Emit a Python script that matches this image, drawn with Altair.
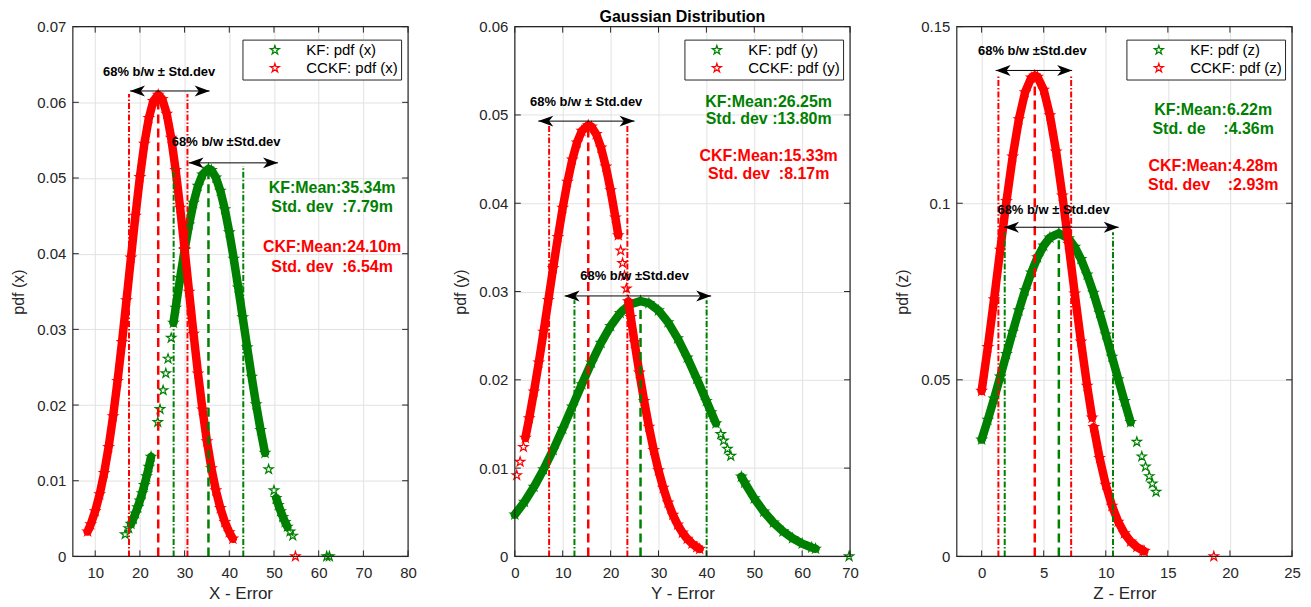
import altair as alt
import pandas as pd

GREEN = "#008000"
RED = "#ff0000"
INK = "#262626"
FONT = "Liberation Sans"
W, H = 336, 531
STAR = ("M0,-1L0.2245,-0.309L0.951,-0.309L0.363,0.118L0.588,0.809L0,0.382"
        "L-0.588,0.809L-0.363,0.118L-0.951,-0.309L-0.2245,-0.309Z")
HEAD_R = "M0,0L-2,-0.73L-1.45,0L-2,0.73Z"
HEAD_L = "M0,0L2,-0.73L1.45,0L2,0.73Z"
NB = "\u00a0"

# ======================= Panel 1 : X - Error =======================
x_kf_err = [16.7, 17.5,
            18, 18.5, 19, 19.5, 20, 20.5, 21, 21.5, 22, 22.5,
            24, 24.5, 25.2, 25.8, 26.3, 27,
            27.5, 28, 29, 30, 31, 32, 33, 34, 35.34, 36, 37, 38, 39, 40, 41, 42, 43, 44, 45, 46, 47, 48,
            48.8, 50,
            50.5, 51, 51.5, 52, 52.5, 53,
            53.6, 54.2, 61.8, 62.4]
x_kf_pdf = [0.00292, 0.00372,
            0.00430, 0.00495, 0.00567, 0.00648, 0.00737, 0.00834, 0.00941, 0.01057, 0.01182, 0.01317,
            0.01774, 0.01945, 0.02195, 0.02419, 0.02612, 0.02887,
            0.03087, 0.03285, 0.03677, 0.04049, 0.04385, 0.04671, 0.04895, 0.05046, 0.05121, 0.05103,
            0.05006, 0.04831, 0.04586, 0.04282, 0.03933, 0.03553, 0.03158, 0.02761, 0.02374, 0.02008,
            0.01670, 0.01367,
            0.01151, 0.00872,
            0.00771, 0.00679, 0.00596, 0.00520, 0.00453, 0.00392,
            0.00328, 0.00273, 0.0, 0.0]
x_kf_seg = [0, 0,
            1, 1, 1, 1, 1, 1, 1, 1, 1, 1,
            0, 0, 0, 0, 0, 0,
            2, 2, 2, 2, 2, 2, 2, 2, 2, 2, 2, 2, 2, 2, 2, 2, 2, 2, 2, 2, 2, 2,
            0, 0,
            3, 3, 3, 3, 3, 3,
            0, 0, 0, 0]
x_ckf_err = [8.3, 9, 10, 11, 12, 13, 14, 15, 16, 17, 18, 19, 20, 21, 22, 23, 24.1,
             25, 26, 27, 28, 29, 30, 31, 32, 33, 34, 35, 36, 37, 38, 39, 40, 40.8, 54.8]
x_ckf_pdf = [0.00329, 0.00424, 0.00597, 0.00821, 0.01102, 0.01445, 0.01852, 0.02317, 0.02832,
             0.03384, 0.03948, 0.04501, 0.05012, 0.05452, 0.05793, 0.06015, 0.06100,
             0.06043, 0.05848, 0.05529, 0.05106, 0.04607, 0.04061, 0.03497, 0.02941, 0.02417,
             0.01940, 0.01521, 0.01165, 0.00872, 0.00638, 0.00455, 0.00318, 0.00234, 0.0]
x_ckf_seg = [1] * 34 + [0]
x_kf_vlines = [27.55, 35.34, 43.13]
x_kf_vtops = [0.0516, 0.0512, 0.0516]
x_ckf_vlines = [17.56, 24.10, 30.64]
x_ckf_vtops = [0.0611, 0.0610, 0.0611]
x_arrow_from = [17.8, 30.9]
x_arrow_to = [35.6, 50.9]
x_arrow_y = [0.0615, 0.0520]
x_arrow_text = ["68% b/w ± Std.dev", "68% b/w ±Std.dev"]
x_arrow_tx = [24.3, 39.3]
x_arrow_ty = [0.0640, 0.0547]
x_kf_notes = ["KF:Mean:35.34m", "Std. dev" + NB * 2 + ":7.79m"]
x_kf_notes_y = [0.0487, 0.0462]
x_ckf_notes = ["CKF:Mean:24.10m", "Std. dev" + NB * 2 + ":6.54m"]
x_ckf_notes_y = [0.0409, 0.0383]
x_notes_x = 63.0

# ======================= Panel 2 : Y - Error =======================
y_kf_err = [0, 2, 4, 6, 8, 10, 12, 14, 16, 18, 20, 22, 24, 26.25, 28, 30, 32, 34, 36, 38, 40, 41, 42,
            43, 43.6, 44.4, 45.1,
            47.3, 48, 50, 52, 54, 56, 58, 60, 62, 62.8,
            69.8]
y_kf_pdf = [0.00474, 0.00617, 0.00788, 0.00985, 0.01206, 0.01445, 0.01697, 0.01950, 0.02194,
            0.02418, 0.02609, 0.02757, 0.02853, 0.02891, 0.02868, 0.02786, 0.02651, 0.02469,
            0.02252, 0.02012, 0.01760, 0.01633, 0.01507,
            0.01384, 0.01312, 0.01217, 0.01138,
            0.00903, 0.00835, 0.00657, 0.00507, 0.00383, 0.00283, 0.00205, 0.00145, 0.00101, 0.00087,
            0.0]
y_kf_seg = [1] * 23 + [0] * 4 + [2] * 10 + [0]
y_ckf_err = [0.4, 1.1, 1.8,
             2.2, 3, 4, 5, 6, 7, 8, 9, 10, 11, 12, 13, 14, 15.33, 16, 17, 18, 19, 20, 21, 21.6,
             22.1, 22.5, 22.9, 23.3,
             23.7, 24.2, 25, 26, 27, 28, 29, 30, 31, 32, 33, 34, 35, 36, 37, 38, 38.6]
y_ckf_pdf = [0.00919, 0.01071, 0.01239,
             0.01342, 0.01564, 0.01867, 0.02196, 0.02544, 0.02904, 0.03265, 0.03617, 0.03947,
             0.04243, 0.04494, 0.04688, 0.04819, 0.04883, 0.04867, 0.04782, 0.04629, 0.04414,
             0.04147, 0.03838, 0.03637,
             0.03464, 0.03322, 0.03179, 0.03034,
             0.02889, 0.02709, 0.02424, 0.02081, 0.01760, 0.01467, 0.01204, 0.00974, 0.00776,
             0.00609, 0.00471, 0.00359, 0.00269, 0.00199, 0.00145, 0.00104, 0.00085]
y_ckf_seg = [0] * 3 + [1] * 21 + [0] * 4 + [2] * 17
y_kf_vlines = [12.45, 26.25, 40.05]
y_kf_vtops = [0.0290, 0.0289, 0.0290]
y_ckf_vlines = [7.16, 15.33, 23.50]
y_ckf_vtops = [0.0488, 0.0488, 0.0488]
y_arrow_from = [4.9, 10.4]
y_arrow_to = [25.0, 41.0]
y_arrow_y = [0.0493, 0.0295]
y_arrow_text = ["68% b/w ± Std.dev", "68% b/w ±Std.dev"]
y_arrow_tx = [14.9, 25.0]
y_arrow_ty = [0.0515, 0.0318]
y_kf_notes = ["KF:Mean:26.25m", "Std. dev :13.80m"]
y_kf_notes_y = [0.0515, 0.0495]
y_ckf_notes = ["CKF:Mean:15.33m", "Std. dev" + NB * 2 + ":8.17m"]
y_ckf_notes_y = [0.0454, 0.0433]
y_notes_x = 53.0

# ======================= Panel 3 : Z - Error =======================
z_kf_err = [0, 0.5, 1, 1.5, 2, 2.5, 3, 3.5, 4, 4.5, 5, 5.5, 6.22, 7, 7.5, 8, 8.5, 9, 9.5, 10,
            10.5, 11, 11.5, 12,
            12.5, 12.9, 13.2, 13.5, 13.75, 14.05]
z_kf_pdf = [0.03307, 0.03870, 0.04469, 0.05092, 0.05728, 0.06358, 0.06966, 0.07532, 0.08037,
            0.08465, 0.08799, 0.09026, 0.09150, 0.09005, 0.08764, 0.08418, 0.07981, 0.07466,
            0.06895, 0.06283, 0.05652, 0.05017, 0.04395, 0.03800,
            0.03243, 0.02829, 0.02540, 0.02270, 0.02060, 0.01825]
z_kf_seg = [1] * 24 + [0] * 6
z_ckf_err = [0, 0.5, 1, 1.5, 2, 2.5, 3, 3.5, 4, 4.28, 4.5, 5, 5.5, 6, 6.5, 7, 7.5, 8, 8.5, 8.9,
             9.03, 9.5, 10, 10.5, 11, 11.5, 12, 12.5, 13, 13.1,
             18.7]
z_ckf_pdf = [0.04685, 0.05925, 0.07277, 0.08682, 0.10060, 0.11322, 0.12377, 0.13142, 0.13554,
             0.13616, 0.13578, 0.13212, 0.12486, 0.11461, 0.10219, 0.08849, 0.07444, 0.06081,
             0.04826, 0.03928,
             0.03660, 0.02785, 0.02026, 0.01430, 0.00982, 0.00654, 0.00423, 0.00266, 0.00162,
             0.00147,
             0.0]
z_ckf_seg = [1] * 20 + [2] * 10 + [0]
z_kf_vlines = [1.86, 6.22, 10.58]
z_kf_vtops = [0.0918, 0.0915, 0.0918]
z_ckf_vlines = [1.35, 4.28, 7.21]
z_ckf_vtops = [0.1363, 0.1362, 0.1363]
z_arrow_from = [1.13, 1.8]
z_arrow_to = [7.29, 11.04]
z_arrow_y = [0.1376, 0.0932]
z_arrow_text = ["68% b/w ±Std.dev", "68% b/w ± Std.dev"]
z_arrow_tx = [4.08, 5.79]
z_arrow_ty = [0.1430, 0.0982]
z_kf_notes = ["KF:Mean:6.22m", "Std. de" + NB * 4 + ":4.36m"]
z_kf_notes_y = [0.1263, 0.1211]
z_ckf_notes = ["CKF:Mean:4.28m", "Std. dev" + NB * 4 + ":2.93m"]
z_ckf_notes_y = [0.1104, 0.1052]
z_notes_x = 18.65

# axes
x1_domain, x1_ticks = [5, 80], [10, 20, 30, 40, 50, 60, 70, 80]
y1_domain, y1_ticks = [0, 0.07], [0, 0.01, 0.02, 0.03, 0.04, 0.05, 0.06, 0.07]
x2_domain, x2_ticks = [0, 70], [0, 10, 20, 30, 40, 50, 60, 70]
y2_domain, y2_ticks = [0, 0.06], [0, 0.01, 0.02, 0.03, 0.04, 0.05, 0.06]
x3_domain, x3_ticks = [-2, 25], [0, 5, 10, 15, 20, 25]
y3_domain, y3_ticks = [0, 0.15], [0, 0.05, 0.1, 0.15]


def panel(xdom, xticks, ydom, yticks, xtitle, ytitle, tag,
          kf, ckf, kfv, ckfv, arrows, kf_notes, ckf_notes, notes_x, title=None):
    XS = alt.Scale(domain=xdom, nice=False, zero=False)
    YS = alt.Scale(domain=ydom, nice=False, zero=False)
    AX = alt.Axis(values=xticks, title=xtitle, grid=True, gridColor="#e2e2e2", gridWidth=1,
                  domain=False, ticks=False, labelFlush=False, labelFont=FONT, labelFontSize=15,
                  labelColor=INK, labelPadding=9, titleFont=FONT, titleFontSize=17,
                  titleFontWeight="normal", titleColor=INK, titlePadding=5)
    AY = alt.Axis(values=yticks, title=ytitle, format=".2~f", grid=True, gridColor="#e2e2e2",
                  gridWidth=1, domain=False, ticks=False, labelFlush=False, labelFont=FONT,
                  labelFontSize=15, labelColor=INK, labelPadding=7, titleFont=FONT,
                  titleFontSize=16, titleFontWeight="normal", titleColor=INK, titlePadding=10)

    def X(f):
        return alt.X(f + ":Q", scale=XS, axis=AX)

    def Y(f):
        return alt.Y(f + ":Q", scale=YS, axis=AY)

    kf_label = "KF: pdf (" + tag + ")"
    ckf_label = "CCKF: pdf (" + tag + ")"
    cscale = alt.Scale(domain=[kf_label, ckf_label], range=[GREEN, RED])
    leg = alt.Legend(title=None, orient="none", legendX=170, legendY=13, direction="vertical",
                     fillColor="white", strokeColor=INK, padding=3, rowPadding=2,
                     symbolType=STAR, symbolSize=90, symbolStrokeWidth=1.2, symbolOffset=22,
                     labelOffset=24, labelFont=FONT, labelFontSize=15, labelColor="black")

    layers = []
    for (err, pdf, seg), col, lab in ((kf, GREEN, kf_label), (ckf, RED, ckf_label)):
        df = pd.DataFrame({"x": err, "y": pdf, "seg": seg, "series": lab})
        layers.append(
            alt.Chart(df[df["seg"] > 0]).mark_line(
                color=col, strokeWidth=8.5, strokeCap="round", strokeJoin="round"
            ).encode(x=X("x"), y=Y("y"), detail="seg:N")
        )
        layers.append(
            alt.Chart(df).mark_point(
                shape=STAR, filled=False, size=95, strokeWidth=1.2, opacity=1
            ).encode(x=X("x"), y=Y("y"),
                     color=alt.Color("series:N", scale=cscale, legend=leg))
        )

    for (vx, vt), col in ((kfv, GREEN), (ckfv, RED)):
        vdf = pd.DataFrame({"x": vx, "y": [0.0, 0.0, 0.0], "y2": vt,
                            "kind": ["std", "mean", "std"]})
        layers.append(
            alt.Chart(vdf).transform_filter("datum.kind == 'std'").mark_rule(
                color=col, strokeWidth=2, strokeDash=[6, 2, 1.5, 2]
            ).encode(x=X("x"), y=Y("y"), y2="y2:Q")
        )
        layers.append(
            alt.Chart(vdf).transform_filter("datum.kind == 'mean'").mark_rule(
                color=col, strokeWidth=2.5, strokeDash=[9, 5]
            ).encode(x=X("x"), y=Y("y"), y2="y2:Q")
        )

    a_from, a_to, a_y, a_text, a_tx, a_ty = arrows
    adf = pd.DataFrame({"x": a_from, "x2": a_to, "y": a_y, "label": a_text,
                        "tx": a_tx, "ty": a_ty})
    layers += [
        alt.Chart(adf).mark_rule(color="black", strokeWidth=1).encode(
            x=X("x"), x2="x2:Q", y=Y("y")),
        alt.Chart(adf).mark_point(shape=HEAD_L, filled=True, size=225, color="black",
                                  opacity=1).encode(x=X("x"), y=Y("y")),
        alt.Chart(adf).mark_point(shape=HEAD_R, filled=True, size=225, color="black",
                                  opacity=1).encode(x=X("x2"), y=Y("y")),
        alt.Chart(adf).mark_text(font=FONT, fontSize=13, fontWeight="bold",
                                 color="black").encode(x=X("tx"), y=Y("ty"), text="label:N"),
    ]

    for (txt, ty), col in ((kf_notes, GREEN), (ckf_notes, RED)):
        ndf = pd.DataFrame({"x": [notes_x] * len(txt), "y": ty, "text": txt})
        layers.append(
            alt.Chart(ndf).mark_text(font=FONT, fontSize=16, fontWeight="bold", color=col,
                                     align="center", baseline="middle").encode(
                x=X("x"), y=Y("y"), text="text:N")
        )

    xt = pd.DataFrame({"x": xticks})
    yt = pd.DataFrame({"y": yticks})
    layers += [
        alt.Chart(xt).mark_rule(color=INK, strokeWidth=1).encode(
            x=X("x"), y=alt.value(H), y2=alt.value(H - 6)),
        alt.Chart(xt).mark_rule(color=INK, strokeWidth=1).encode(
            x=X("x"), y=alt.value(0), y2=alt.value(6)),
        alt.Chart(yt).mark_rule(color=INK, strokeWidth=1).encode(
            y=Y("y"), x=alt.value(0), x2=alt.value(6)),
        alt.Chart(yt).mark_rule(color=INK, strokeWidth=1).encode(
            y=Y("y"), x=alt.value(W), x2=alt.value(W - 6)),
        alt.Chart(pd.DataFrame({"f": [0]})).mark_rect(
            fill="white", fillOpacity=0, stroke=INK, strokeWidth=1.2).encode(
            x=alt.value(0), x2=alt.value(W), y=alt.value(0), y2=alt.value(H)),
    ]
    ch = alt.layer(*layers)
    if title:
        return ch.properties(width=W, height=H, title=alt.TitleParams(
            title, font=FONT, fontSize=16, fontWeight="bold", color="black", offset=-5,
            anchor="middle", frame="group"))
    return ch.properties(width=W, height=H)


p1 = panel(x1_domain, x1_ticks, y1_domain, y1_ticks, "X - Error", "pdf (x)", "x",
           (x_kf_err, x_kf_pdf, x_kf_seg), (x_ckf_err, x_ckf_pdf, x_ckf_seg),
           (x_kf_vlines, x_kf_vtops), (x_ckf_vlines, x_ckf_vtops),
           (x_arrow_from, x_arrow_to, x_arrow_y, x_arrow_text, x_arrow_tx, x_arrow_ty),
           (x_kf_notes, x_kf_notes_y), (x_ckf_notes, x_ckf_notes_y), x_notes_x)
p2 = panel(x2_domain, x2_ticks, y2_domain, y2_ticks, "Y - Error", "pdf (y)", "y",
           (y_kf_err, y_kf_pdf, y_kf_seg), (y_ckf_err, y_ckf_pdf, y_ckf_seg),
           (y_kf_vlines, y_kf_vtops), (y_ckf_vlines, y_ckf_vtops),
           (y_arrow_from, y_arrow_to, y_arrow_y, y_arrow_text, y_arrow_tx, y_arrow_ty),
           (y_kf_notes, y_kf_notes_y), (y_ckf_notes, y_ckf_notes_y), y_notes_x,
           title="Gaussian Distribution")
p3 = panel(x3_domain, x3_ticks, y3_domain, y3_ticks, "Z - Error", "pdf (z)", "z",
           (z_kf_err, z_kf_pdf, z_kf_seg), (z_ckf_err, z_ckf_pdf, z_ckf_seg),
           (z_kf_vlines, z_kf_vtops), (z_ckf_vlines, z_ckf_vtops),
           (z_arrow_from, z_arrow_to, z_arrow_y, z_arrow_text, z_arrow_tx, z_arrow_ty),
           (z_kf_notes, z_kf_notes_y), (z_ckf_notes, z_ckf_notes_y), z_notes_x)

chart = alt.hconcat(p1, p2, p3, spacing=107, bounds="flush").resolve_scale(
    color="independent"
).properties(
    padding={"left": 2, "top": 0, "right": 2, "bottom": 0}
).configure_view(strokeWidth=0)

chart.save("out.html", embed_options={"renderer": "svg", "actions": False})
